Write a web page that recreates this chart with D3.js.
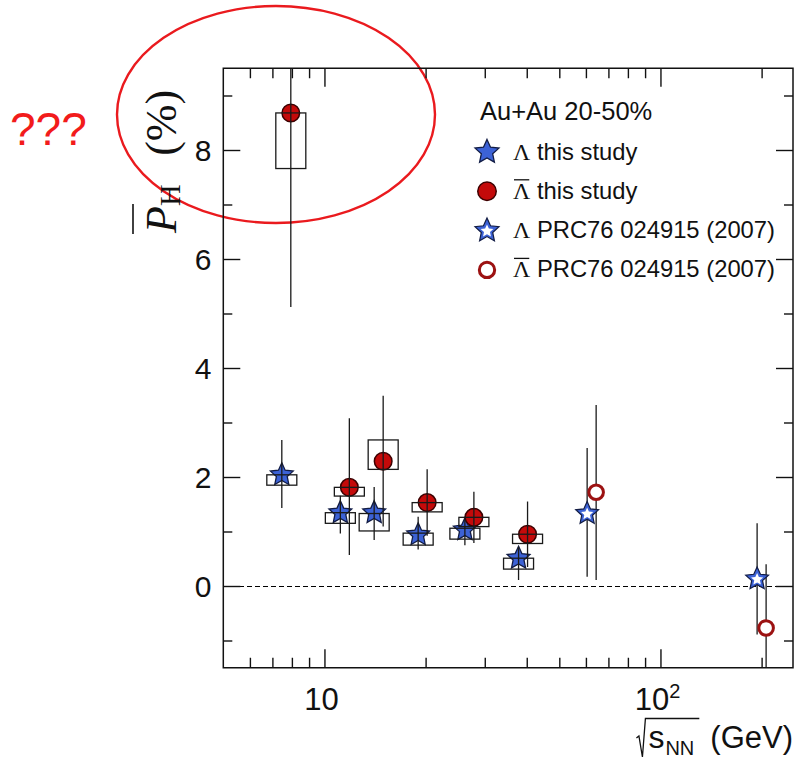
<!DOCTYPE html>
<html>
<head>
<meta charset="utf-8">
<script src="https://cdn.jsdelivr.net/npm/d3@7"></script>
<style>
  html, body { margin: 0; padding: 0; background: #fff; }
  svg { display: block; }
</style>
</head>
<body>
<svg id="chart" width="796" height="759"></svg>
<script>
// ---- Data: hyperon global polarization, Au+Au 20-50% ----
// Beam energies (GeV) of the energy-scan measurements
const energies = [7.7, 11.5, 14.5, 19.6, 27, 39];

// Lambda: value (%), statistical error up/down, systematic band low/high
const lamVal      = [2.04, 1.345, 1.345, 0.94, 1.03, 0.51];
const lamErrUp    = [0.64, 0.31, 0.47, 0.33, 0.20, 0.21];
const lamErrDown  = [0.61, 0.38, 0.50, 0.27, 0.28, 0.40];
const lamSysLo    = [1.85, 1.15, 1.01, 0.75, 0.86, 0.31];
const lamSysHi    = [2.04, 1.345, 1.33, 0.97, 1.06, 0.51];

// Anti-Lambda: value (%), statistical error up/down, systematic band low/high
const alamVal     = [8.68, 1.81, 2.29, 1.53, 1.26, 0.95];
const alamErrUp   = [3.56, 1.27, 1.20, 0.61, 0.47, 0.60];
const alamErrDown = [3.56, 1.24, 1.20, 0.61, 0.47, 0.60];
const alamSysLo   = [7.66, 1.65, 2.14, 1.36, 1.09, 0.78];
const alamSysHi   = [8.68, 1.81, 2.68, 1.53, 1.26, 0.95];

// Earlier measurement, PRC76 024915 (2007)
const prcEnergies  = [62.4, 200];
const prcLamVal    = [1.33, 0.13];
const prcLamErrUp  = [1.20, 1.02];
const prcLamErrDn  = [1.16, 1.02];
const prcAlamVal   = [1.72, -0.77];
const prcAlamErrUp = [1.60, 1.17];
const prcAlamErrDn = [1.61, 1.17];

// Axis ticks
const xMajorTicks = [10, 100];
const xMinorTicks = [6, 7, 8, 9, 20, 30, 40, 50, 60, 70, 80, 90, 200];
const yMajorTicks = [0, 2, 4, 6, 8];
const yMinorTicks = [-1, 1, 3, 5, 7, 9];

// Legend entries
const legendHeader = "Au+Au 20-50%";
const legendItems = [
  { sym: "star",       bar: false, text: " this study" },
  { sym: "circle",     bar: true,  text: " this study" },
  { sym: "openStar",   bar: false, text: " PRC76 024915 (2007)" },
  { sym: "openCircle", bar: true,  text: " PRC76 024915 (2007)" }
];

// ---- Layout & styles ----
const svg = d3.select("#chart");
const frame = { left: 223.3, right: 793, top: 68.25, bottom: 667.75 };
const x = d3.scaleLog().domain([5, 248]).range([frame.left, frame.right]);
const y = d3.scaleLinear().domain([-1.5, 9.5]).range([frame.bottom, frame.top]);

const SANS = "'Liberation Sans', Arial, Helvetica, sans-serif";
const SERIF = "'Liberation Serif', 'Times New Roman', serif";
const BLUE = "#3c62d6", STAR_EDGE = "#121c44";
const RED = "#c40a0a", RED_EDGE = "#3c0000", OPEN_RED = "#9c1212";
const LAM_SHIFT = -4.5, ALAM_SHIFT = 4.5;   // side-by-side offsets in px
const BOX_W = 30;

function starPath(R, r) {
  const pts = [];
  for (let i = 0; i < 10; i++) {
    const a = -Math.PI / 2 + i * Math.PI / 5;
    const rad = i % 2 ? r : R;
    pts.push([rad * Math.cos(a), rad * Math.sin(a)]);
  }
  return "M" + pts.map(p => p[0].toFixed(2) + "," + p[1].toFixed(2)).join("L") + "Z";
}

function drawMarker(g, type, cx, cy, scale = 1) {
  if (type === "star") {
    g.append("path").attr("d", starPath(12 * scale, 5.7 * scale))
      .attr("transform", `translate(${cx},${cy})`)
      .attr("fill", BLUE).attr("stroke", STAR_EDGE).attr("stroke-width", 1.3)
      .attr("stroke-linejoin", "miter");
  } else if (type === "openStar") {
    g.append("path").attr("d", starPath(12 * scale, 5.7 * scale))
      .attr("transform", `translate(${cx},${cy})`)
      .attr("fill", BLUE).attr("stroke", STAR_EDGE).attr("stroke-width", 1.2);
    g.append("path").attr("d", starPath(6.4 * scale, 3.0 * scale))
      .attr("transform", `translate(${cx},${cy + 0.5})`)
      .attr("fill", "#fff").attr("stroke", "none");
  } else if (type === "circle") {
    g.append("circle").attr("cx", cx).attr("cy", cy).attr("r", 8.8 * scale)
      .attr("fill", RED).attr("stroke", RED_EDGE).attr("stroke-width", 1.5);
  } else if (type === "openCircle") {
    g.append("circle").attr("cx", cx).attr("cy", cy).attr("r", 7.3 * scale)
      .attr("fill", "#fff").attr("stroke", OPEN_RED).attr("stroke-width", 3);
  }
}

// ---- Clip region for the plotting area ----
svg.append("defs").append("clipPath").attr("id", "plotClip")
  .append("rect")
  .attr("x", frame.left).attr("y", frame.top)
  .attr("width", frame.right - frame.left).attr("height", frame.bottom - frame.top);

// ---- Red annotation (drawn beneath the plot contents) ----
svg.append("ellipse")
  .attr("cx", 276).attr("cy", 114.5).attr("rx", 159).attr("ry", 108.5)
  .attr("fill", "none").attr("stroke", "#ea1a1e").attr("stroke-width", 2.4);
svg.append("text")
  .attr("x", 10).attr("y", 145)
  .attr("font-family", SANS).attr("font-size", 46)
  .attr("fill", "#f21b1b").text("???");

// ---- Zero reference line ----
svg.append("line")
  .attr("x1", frame.left).attr("x2", frame.right)
  .attr("y1", y(0) + 0.5).attr("y2", y(0) + 0.5)
  .attr("stroke", "#000").attr("stroke-width", 1.1)
  .attr("shape-rendering", "crispEdges")
  .attr("stroke-dasharray", "5,3");

// ---- Data ----
const plot = svg.append("g").attr("clip-path", "url(#plotClip)");

const lamPts = energies.map((e, i) => ({
  e, v: lamVal[i], up: lamErrUp[i], dn: lamErrDown[i], lo: lamSysLo[i], hi: lamSysHi[i]
}));
const alamPts = energies.map((e, i) => ({
  e, v: alamVal[i], up: alamErrUp[i], dn: alamErrDown[i], lo: alamSysLo[i], hi: alamSysHi[i]
}));
const prcLam = prcEnergies.map((e, i) => ({ e, v: prcLamVal[i], up: prcLamErrUp[i], dn: prcLamErrDn[i] }));
const prcAlam = prcEnergies.map((e, i) => ({ e, v: prcAlamVal[i], up: prcAlamErrUp[i], dn: prcAlamErrDn[i] }));

function errorBar(g, d, shift) {
  const cx = x(d.e) + shift;
  g.append("line")
    .attr("x1", cx).attr("x2", cx)
    .attr("y1", y(d.v + d.up)).attr("y2", y(d.v - d.dn))
    .attr("stroke", "#1a1a1a").attr("stroke-width", 1.3);
}
function sysBox(g, d, shift) {
  const cx = x(d.e) + shift;
  g.append("rect")
    .attr("x", cx - BOX_W / 2).attr("width", BOX_W)
    .attr("y", y(d.hi)).attr("height", y(d.lo) - y(d.hi))
    .attr("fill", "none").attr("stroke", "#1a1a1a").attr("stroke-width", 1.3);
}

// Earlier measurement: error bars under open markers
prcLam.forEach(d => errorBar(plot, d, LAM_SHIFT));
prcAlam.forEach(d => errorBar(plot, d, ALAM_SHIFT));
prcLam.forEach(d => drawMarker(plot, "openStar", x(d.e) + LAM_SHIFT, y(d.v)));
prcAlam.forEach(d => drawMarker(plot, "openCircle", x(d.e) + ALAM_SHIFT, y(d.v)));

// Energy-scan points: markers, then systematic boxes and error bars
lamPts.forEach(d => drawMarker(plot, "star", x(d.e) + LAM_SHIFT, y(d.v)));
alamPts.forEach(d => drawMarker(plot, "circle", x(d.e) + ALAM_SHIFT, y(d.v)));
lamPts.forEach(d => { sysBox(plot, d, LAM_SHIFT); errorBar(plot, d, LAM_SHIFT); });
alamPts.forEach(d => { sysBox(plot, d, ALAM_SHIFT); errorBar(plot, d, ALAM_SHIFT); });

// ---- Axes (ticks on all four sides, pointing inward) ----
function styleAxis(g) {
  g.select(".domain").remove();
  g.selectAll(".tick line").attr("stroke", "#111").attr("stroke-width", 1.4);
}
const axes = svg.append("g");
axes.append("g").attr("transform", `translate(0,${frame.bottom})`)
  .call(d3.axisBottom(x).tickValues(xMajorTicks).tickSize(-18.5).tickFormat("")).call(styleAxis);
axes.append("g").attr("transform", `translate(0,${frame.bottom})`)
  .call(d3.axisBottom(x).tickValues(xMinorTicks).tickSize(-10).tickFormat("")).call(styleAxis);
axes.append("g").attr("transform", `translate(0,${frame.top})`)
  .call(d3.axisTop(x).tickValues(xMajorTicks).tickSize(-18.5).tickFormat("")).call(styleAxis);
axes.append("g").attr("transform", `translate(0,${frame.top})`)
  .call(d3.axisTop(x).tickValues(xMinorTicks).tickSize(-10).tickFormat("")).call(styleAxis);
axes.append("g").attr("transform", `translate(${frame.left},0)`)
  .call(d3.axisLeft(y).tickValues(yMajorTicks).tickSize(-17).tickFormat("")).call(styleAxis);
axes.append("g").attr("transform", `translate(${frame.left},0)`)
  .call(d3.axisLeft(y).tickValues(yMinorTicks).tickSize(-9).tickFormat("")).call(styleAxis);
axes.append("g").attr("transform", `translate(${frame.right},0)`)
  .call(d3.axisRight(y).tickValues(yMajorTicks).tickSize(-17).tickFormat("")).call(styleAxis);
axes.append("g").attr("transform", `translate(${frame.right},0)`)
  .call(d3.axisRight(y).tickValues(yMinorTicks).tickSize(-9).tickFormat("")).call(styleAxis);

// Frame
svg.append("rect")
  .attr("x", frame.left).attr("y", frame.top)
  .attr("width", frame.right - frame.left).attr("height", frame.bottom - frame.top)
  .attr("fill", "none").attr("stroke", "#111").attr("stroke-width", 1.5);

// Tick labels
svg.append("g").selectAll("text").data(yMajorTicks).join("text")
  .attr("x", 211.5).attr("y", d => y(d) + 10.5)
  .attr("text-anchor", "end")
  .attr("font-family", SANS).attr("font-size", 30).attr("fill", "#111")
  .text(d => d);

xMajorTicks.forEach(v => {
  const exp = Math.round(Math.log10(v));
  const t = svg.append("text")
    .attr("x", x(v) - 3).attr("y", 710)
    .attr("text-anchor", "middle")
    .attr("font-family", SANS).attr("font-size", 31).attr("fill", "#111");
  if (exp === 1) {
    t.text("10");
  } else {
    t.append("tspan").text("10");
    t.append("tspan").attr("font-size", 20).attr("dy", -12).text(exp);
  }
});

// ---- X-axis title: √s_NN (GeV) ----
const xt = svg.append("g").attr("font-family", SANS).attr("fill", "#111");
const gev = xt.append("text").attr("x", 793).attr("y", 748)
  .attr("text-anchor", "end").attr("font-size", 31).text("(GeV)");
const gevW = gev.node().getComputedTextLength();
const nnEnd = 793 - gevW - 16;
const nn = xt.append("text").attr("x", nnEnd).attr("y", 755)
  .attr("text-anchor", "end").attr("font-size", 20).text("NN");
const nnW = nn.node().getComputedTextLength();
const sEnd = nnEnd - nnW - 1;
const sT = xt.append("text").attr("x", sEnd).attr("y", 748)
  .attr("text-anchor", "end").attr("font-size", 32).text("s");
const sW = sT.node().getComputedTextLength();
const radX = sEnd - sW - 4;
xt.append("path")
  .attr("d", `M${radX - 8},738 L${radX - 5.5},736 L${radX - 2},757 L${radX + 1},718.5 L${nnEnd + 5},718.5`)
  .attr("fill", "none").attr("stroke", "#111").attr("stroke-width", 1.3);

// ---- Y-axis title: P̄_H (%) ----
const yt = svg.append("g").attr("transform", "translate(176,0) rotate(-90)");
const ytext = yt.append("text")
  .attr("x", -233).attr("y", 0)
  .attr("font-family", SERIF).attr("fill", "#111");
ytext.append("tspan").attr("font-size", 44).attr("font-style", "italic").text("P");
ytext.append("tspan").attr("font-size", 30).attr("dy", 4).text("H");
ytext.append("tspan").attr("font-size", 44).attr("dy", -4).text("\u2009\u2009 (%)");
{
  const ext = ytext.node().getExtentOfChar(0);
  yt.append("line")
    .attr("x1", ext.x - 1).attr("x2", ext.x + ext.width + 2)
    .attr("y1", -43).attr("y2", -43)
    .attr("stroke", "#111").attr("stroke-width", 1.6);
}

// ---- Legend ----
const lg = svg.append("g");
lg.append("text").attr("x", 480).attr("y", 120)
  .attr("font-family", SANS).attr("font-size", 25.5).attr("fill", "#111")
  .text(legendHeader);
legendItems.forEach((it, i) => {
  const base = 159.5 + i * 39.3;
  drawMarker(lg, it.sym, 487, base - 7.5, 1.05);
  const t = lg.append("text").attr("x", 513).attr("y", base)
    .attr("font-family", SANS).attr("font-size", 23.8).attr("fill", "#111");
  t.append("tspan").attr("font-family", SERIF).text("\u039B");
  t.append("tspan").text(it.text);
  if (it.bar) {
    const ext = t.node().getExtentOfChar(0);
    lg.append("line")
      .attr("x1", ext.x + 1).attr("x2", ext.x + ext.width - 1)
      .attr("y1", base - 19).attr("y2", base - 19)
      .attr("stroke", "#111").attr("stroke-width", 1.3);
  }
});
</script>
</body>
</html>
